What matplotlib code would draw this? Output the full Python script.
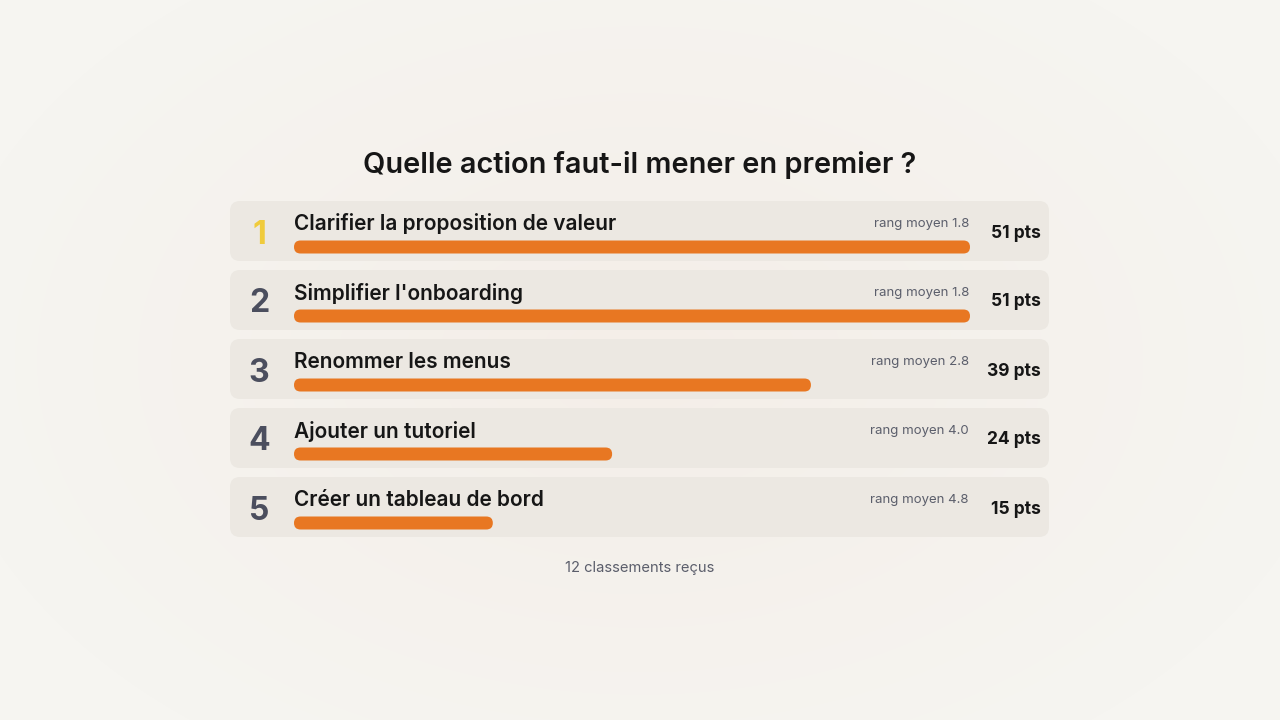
import numpy as np
import matplotlib.pyplot as plt
from matplotlib.patches import FancyBboxPatch

title = "Quelle action faut-il mener en premier ?"
labels = ["Clarifier la proposition de valeur", "Simplifier l'onboarding",
          "Renommer les menus", "Ajouter un tutoriel", "Créer un tableau de bord"]
points = [51, 51, 39, 24, 15]
avg_rank = [1.8, 1.8, 2.8, 4.0, 4.8]
footer = "12 classements reçus"

plt.rcParams['font.family'] = ['Inter', 'DejaVu Sans']

W, H = 1280, 720
fig = plt.figure(figsize=(W / 100, H / 100), dpi=100)
ax = fig.add_axes([0, 0, 1, 1])
ax.set_xlim(0, W)
ax.set_ylim(H, 0)
ax.axis('off')

# soft radial background
yy, xx = np.mgrid[0:H, 0:W]
r = np.sqrt(((xx - W / 2) / (W * 0.55)) ** 2 + ((yy - H / 2) / (H * 0.65)) ** 2)
r = np.clip(r, 0, 1)[..., None]
c_in = np.array([0xf4, 0xee, 0xe8]) / 255
c_out = np.array([0xf6, 0xf5, 0xf1]) / 255
bg = c_in * (1 - r) + c_out * r
ax.imshow(bg, extent=(0, W, H, 0), zorder=0, aspect='auto')

ax.text(640, 165, title, ha='center', va='center', fontsize=20.8,
        fontweight='semibold', color='#161616')

card_x0, card_x1 = 230, 1049
card_h, step, top0 = 60, 69, 201
bar_x0, bar_x1 = 294, 970
bar_h = 13
vmax = max(points)

for i, (lab, v, rk) in enumerate(zip(labels, points, avg_rank)):
    top = top0 + i * step
    ax.add_patch(FancyBboxPatch((card_x0, top), card_x1 - card_x0, card_h,
                                boxstyle="round,pad=0,rounding_size=10",
                                fc='#ece8e2', ec='none', zorder=1))
    ax.text(259, top + 34, str(i + 1), ha='center', va='center', fontsize=23,
            fontweight='bold', color='#f0cb3c' if i == 0 else '#4b4e5e', zorder=3)
    ax.text(bar_x0, top + 23, lab, ha='left', va='center', fontsize=15,
            fontweight='semibold', color='#161616', zorder=3)
    ax.text(969, top + 23, f"rang moyen {rk:.1f}", ha='right', va='center',
            fontsize=9.5, color='#5b5e6b', zorder=3)
    ax.text(1041, top + 32, f"{v} pts", ha='right', va='center', fontsize=12.5,
            fontweight='bold', color='#161616', zorder=3)
    bw = (bar_x1 - bar_x0) * v / vmax
    ax.add_patch(FancyBboxPatch((bar_x0, top + 46 - bar_h / 2), bw, bar_h,
                                boxstyle=f"round,pad=0,rounding_size={bar_h / 2}",
                                fc='#e87722', ec='none', zorder=2))

ax.text(640, 568, footer, ha='center', va='center', fontsize=10.6,
        color='#5b5e6b')

fig.savefig('out.png', dpi=100)
